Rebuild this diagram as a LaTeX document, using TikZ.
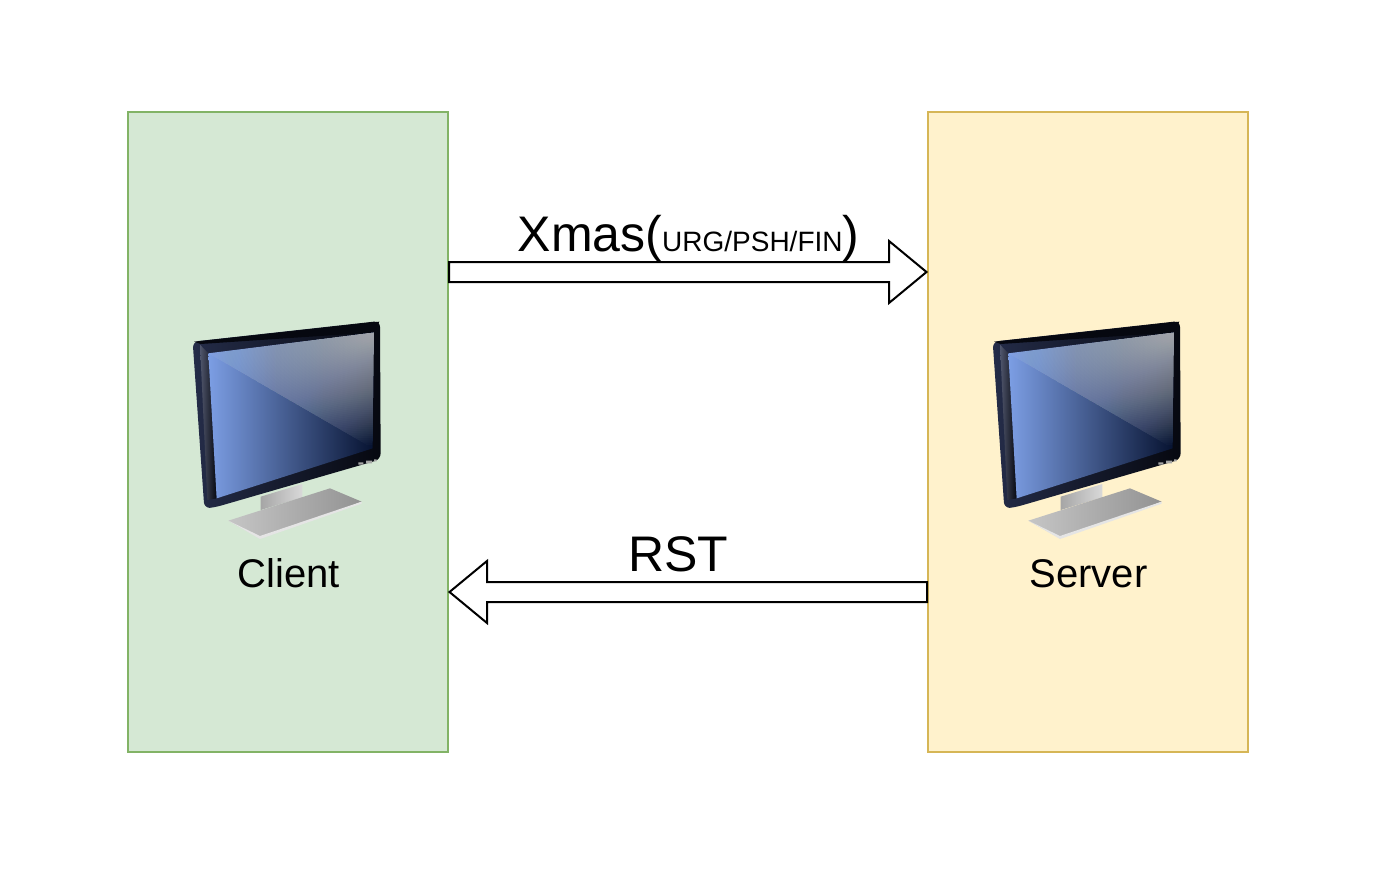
\documentclass[tikz,border=0pt]{standalone}
\usepackage{fontspec}
\setmainfont{Liberation Sans}
\usetikzlibrary{calc}
\definecolor{clientfill}{HTML}{D5E8D4}
\definecolor{clientline}{HTML}{82B366}
\definecolor{serverfill}{HTML}{FFF2CC}
\definecolor{serverline}{HTML}{D6B656}
\definecolor{framedark}{RGB}{6,8,16}
\definecolor{framemid}{RGB}{36,44,72}
\definecolor{screenlight}{RGB}{124,158,228}
\definecolor{screendark}{RGB}{6,18,48}
\tikzset{
  hostbox/.style={draw, line width=1.5pt, minimum width=320pt, minimum height=640pt, inner sep=0pt, outer sep=0pt},
  hostlabel/.style={font=\fontsize{40}{48}\selectfont, anchor=base, inner sep=0pt},
  flowlabel/.style={font=\fontsize{50}{60}\selectfont, anchor=base, inner sep=0pt},
  blockarrow/.style={draw=black, fill=white, line width=2pt, line join=miter, to path={
    ($(\tikztostart)+(#1,-10)$) -- ($(\tikztotarget)+(-39*#1,-10)$) -- ($(\tikztotarget)+(-39*#1,-31)$)
    -- ($(\tikztotarget)+(-1.5*#1,0)$) -- ($(\tikztotarget)+(-39*#1,31)$) -- ($(\tikztotarget)+(-39*#1,10)$)
    -- ($(\tikztostart)+(#1,10)$) -- cycle}},
  monitor/.pic={
    \begin{scope}[scale=1/3, shift={(-354,-396)}]
      \shade[left color=gray!70, right color=gray!30] (272,590) -- (397,552) -- (397,592) -- (272,630) -- cycle;
      \shade[left color=gray!45, right color=gray!85] (175,662) -- (480,565) -- (575,605) -- (270,715) -- cycle;
      \fill[gray!20] (175,662) -- (270,708) -- (575,605) -- (575,611) -- (270,717) -- cycle;
      \shade[left color=framemid, right color=framedark, rounded corners=6pt] (68,125) -- (630,63) -- (632,478) -- (135,622) -- (103,625) -- cycle;
      \fill[framedark] (72,125) -- (628,65) -- (614,97) -- (92,132) -- cycle;
      \shade[left color=framemid!80!white, right color=framedark] (90,134) -- (115,160) -- (140,595) -- (112,600) -- cycle;
      \shade[left color=screenlight, right color=screendark] (115,160) -- (612,97) -- (608,445) -- (140,595) -- cycle;
      \begin{scope}
        \clip (115,160) -- (612,97) -- (608,445) -- cycle;
        \foreach \i in {1,...,60}
          \fill[white, fill opacity=.02] (612,97) ellipse [x radius={520*(\i/60)^1.2}, y radius={338*(\i/60)^1.2}];
      \end{scope}
      \fill[gray!70] (565,487) rectangle (580,494) (588,482) rectangle (606,490) (612,478) rectangle (620,484);
    \end{scope}
  }
}
\begin{document}
\begin{tikzpicture}[x=1pt, y=-1pt]
  \useasboundingbox (0,0) rectangle (1374,875);
  \node[hostbox, fill=clientfill, draw=clientline] (client) at (288,432) {};
  \node[hostbox, fill=serverfill, draw=serverline] (server) at (1088,432) {};
  \pic (clientpc) at (client.center) {monitor};
  \pic (serverpc) at (server.center) {monitor};
  \node[hostlabel] (clientlabel) at (289,587) {Client};
  \node[hostlabel] (serverlabel) at (1088.5,587) {Server};
  \node[flowlabel] (xmaslabel) at (688.5,251) {Xmas({\fontsize{28}{34}\selectfont URG/PSH/FIN})};
  \node[flowlabel] (rstlabel) at (678,571) {RST};
  \draw[blockarrow=1] ($(client.north east)!.25!(client.south east)$) to ($(server.north west)!.25!(server.south west)$);
  \draw[blockarrow=-1] ($(server.north west)!.75!(server.south west)$) to ($(client.north east)!.75!(client.south east)$);
\end{tikzpicture}
\end{document}
